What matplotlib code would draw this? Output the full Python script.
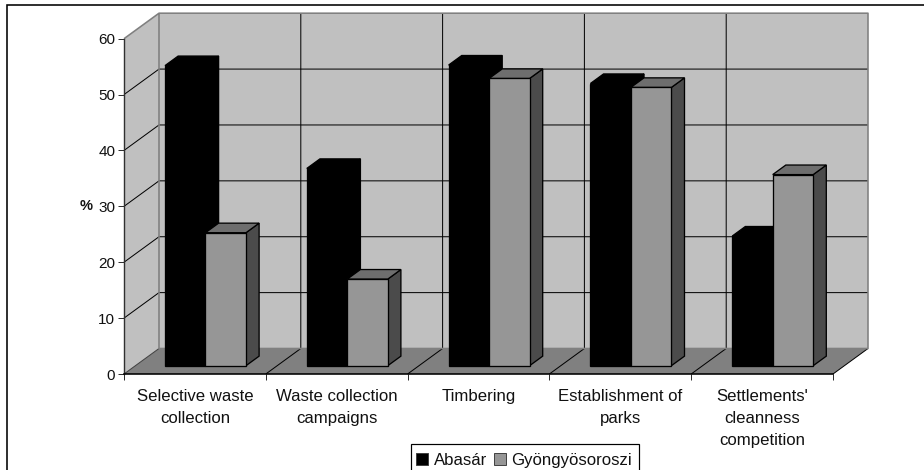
import matplotlib
matplotlib.use("Agg")
import matplotlib.pyplot as plt
from matplotlib.patches import Polygon, Patch, Rectangle

categories = ["Selective waste\ncollection", "Waste collection\ncampaigns", "Timbering",
              "Establishment of\nparks", "Settlements'\ncleanness\ncompetition"]
abasar = [53.7, 35.3, 53.8, 50.5, 23.2]
gyongyos = [23.8, 15.5, 51.4, 49.8, 34.2]
series_names = ["Abasár", "Gyöngyösoroszi"]
y_ticks = [0, 10, 20, 30, 40, 50, 60]

plt.rcParams['font.family'] = ['Liberation Sans', 'DejaVu Sans']
W, H = 924, 470
fig = plt.figure(figsize=(W / 100, H / 100), dpi=100, facecolor='white')
X0, X1, Y0, Y1 = 124, 833, 374, 38.7
ax = fig.add_axes([X0 / W, 1 - Y0 / H, (X1 - X0) / W, (Y0 - Y1) / H])
ax.set_xlim(0, 5)
ax.set_ylim(0, 60)
ax.patch.set_visible(False)

n = len(categories)
DX = 35 / ((X1 - X0) / n)
DY = 25.5 / ((Y0 - Y1) / 60)
WALL, FLOOR, EDGE = '#C0C0C0', '#808080', '#808080'
GREY, TOP, SIDE = '#969696', '#6E6E6E', '#4B4B4B'
px = 0.72


def poly(pts, fc, ec='none', lw=0, z=1):
    ax.add_patch(Polygon(pts, closed=True, fc=fc, ec=ec, lw=lw, zorder=z, clip_on=False,
                         joinstyle='miter'))


def line(xs, ys, c='black', lw=1.0, z=2):
    ax.plot(xs, ys, color=c, lw=lw * px, zorder=z, clip_on=False, solid_capstyle='butt')


# walls and floor
poly([(0, 0), (DX, DY), (DX, 60 + DY), (0, 60)], WALL)
poly([(DX, DY), (n + DX, DY), (n + DX, 60 + DY), (DX, 60 + DY)], WALL)
poly([(0, 0), (n, 0), (n + DX, DY), (DX, DY)], FLOOR)

# grid
for v in y_ticks[1:-1]:
    line([0, DX, n + DX], [v, v + DY, v + DY])
for i in range(1, n):
    line([i, i + DX, i + DX], [0, DY, 60 + DY])
line([n, n + DX], [0, DY])
line([0, DX], [0, DY], c='#404040')
# wall outline
line([0, DX, n + DX, n + DX, DX, DX], [60, 60 + DY, 60 + DY, DY, DY, 60 + DY], c=EDGE, lw=1.6)

# bars
F0, F1 = 0.325, 0.70
START, BW = 0.209, 0.2855


def bar3d(x, v, front, top, side, z):
    dx0, dy0 = DX * F0, DY * F0
    dx1, dy1 = DX * F1, DY * F1
    xa, xb = x + dx0, x + BW + dx0
    ec, lw = 'black', 1.0 * px * 1.3
    poly([(xb, dy0), (x + BW + dx1, dy1), (x + BW + dx1, v + dy1), (xb, v + dy0)], side, ec, lw, z)
    poly([(xa, v + dy0), (xb, v + dy0), (x + BW + dx1, v + dy1), (x + dx1, v + dy1)], top, ec, lw, z)
    poly([(xa, dy0), (xb, dy0), (xb, v + dy0), (xa, v + dy0)], front, ec, lw, z)


for i in range(n):
    bar3d(i + START, abasar[i], 'black', 'black', 'black', 3)
    bar3d(i + START + BW, gyongyos[i], GREY, TOP, SIDE, 4)

# axes
for s in ('top', 'right'):
    ax.spines[s].set_visible(False)
ax.spines['left'].set_color('#303030')
ax.spines['left'].set_linewidth(1.4 * px)
ax.spines['bottom'].set_color('black')
ax.spines['bottom'].set_linewidth(1.6 * px)
for s in ax.spines.values():
    s.set_zorder(5)
ax.set_yticks(y_ticks)
ax.set_xticks(range(n + 1))
ax.set_xticklabels([])
ax.set_xticks([i + 0.5 for i in range(n)], minor=True)
ax.set_xticklabels(categories, minor=True, fontsize=12.1, linespacing=1.6, color='#111111')
ax.tick_params(axis='x', which='major', length=6 * px, width=1 * px, color='#303030')
ax.tick_params(axis='x', which='minor', length=0, pad=15 * px)
ax.tick_params(axis='y', length=6 * px, width=1 * px, color='#303030', labelsize=11, pad=2,
               labelcolor='#111111')
for t in ax.get_xticklabels(minor=True):
    t.set_verticalalignment('top')

fig.text(86.5 / W, 1 - 206.5 / H, '%', fontsize=10.5, fontweight='bold', ha='center', va='center', color='#111111')

# outer frame (runs past the right and bottom of the image)
fig.add_artist(Rectangle((7 / W, -0.1), 1.2, 1.1 - 5 / H, transform=fig.transFigure, fc='none',
                         ec='black', lw=1.6 * px, zorder=0))

# legend box also runs past the bottom of the image
fig.add_artist(Rectangle((411 / W, -0.1), 228 / W, 0.1 + 1 - 444.5 / H, transform=fig.transFigure,
                         fc='white', ec='black', lw=1.2 * px, zorder=3))
handles = [Patch(fc='black', ec='#404040', lw=0.7), Patch(fc=GREY, ec='#404040', lw=0.7)]
leg = fig.legend(handles, series_names, loc='center', bbox_to_anchor=(524 / W, 1 - 460.7 / H),
                 fontsize=12.1, ncol=2, frameon=False,
                 handlelength=0.72, handleheight=0.72, handletextpad=0.32, columnspacing=0.4,
                 borderpad=0.42, borderaxespad=0, labelcolor='#111111')
leg.set_zorder(4)

fig.savefig('out.png', dpi=100)
